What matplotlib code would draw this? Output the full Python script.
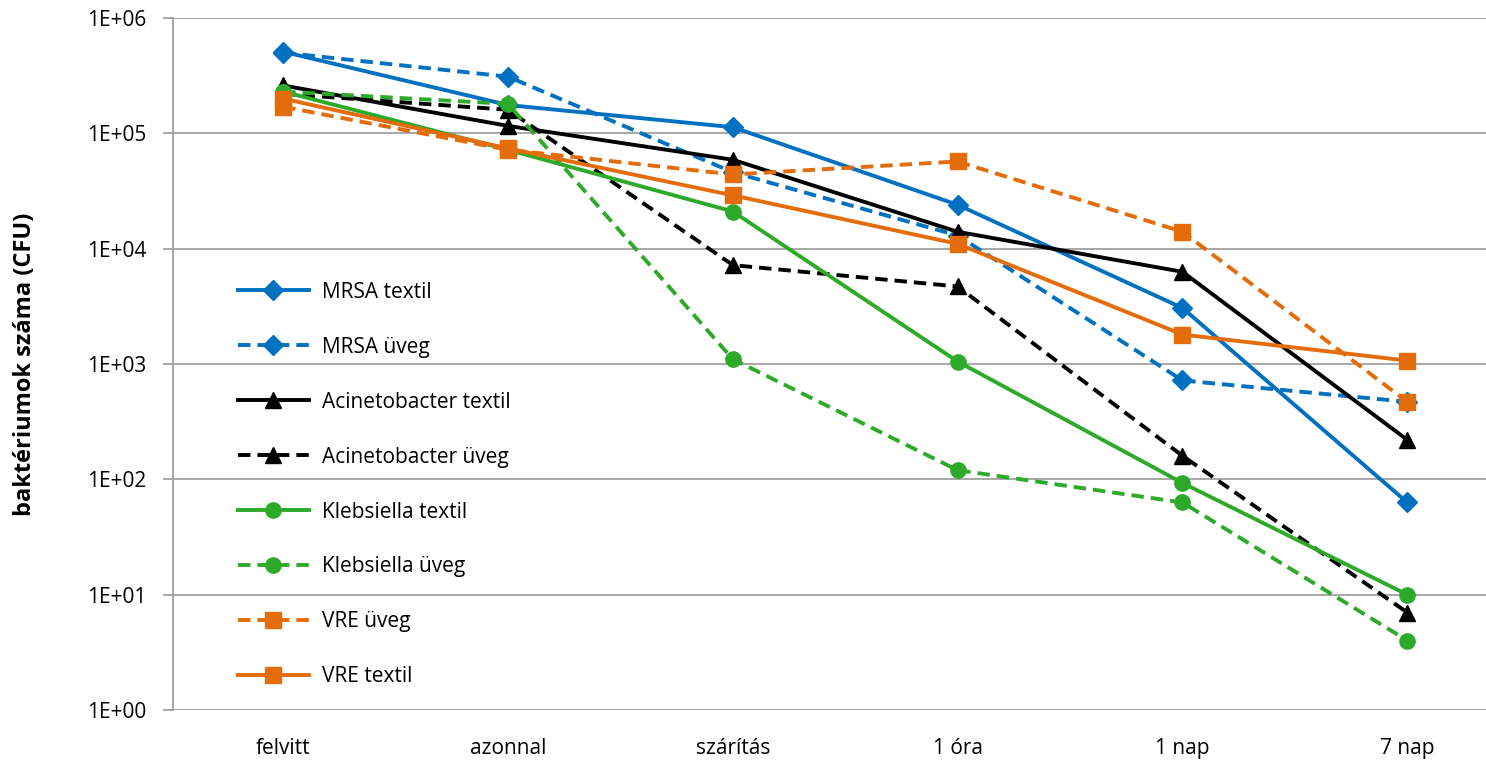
import numpy as np
import matplotlib
matplotlib.use('Agg')
import matplotlib.pyplot as plt

plt.rcParams['font.family'] = ['Open Sans', 'DejaVu Sans']

# Data
categories = ['felvitt', 'azonnal', 'szárítás', '1 óra', '1 nap', '7 nap']

mrsa_textil = [5.1e5, 1.76e5, 1.13e5, 2.4e4, 3.06e3, 63]
mrsa_uveg = [5.0e5, 3.1e5, 4.6e4, 1.3e4, 7.2e2, 4.7e2]
acineto_textil = [2.6e5, 1.16e5, 5.9e4, 1.4e4, 6.3e3, 2.2e2]
acineto_uveg = [2.2e5, 1.6e5, 7.2e3, 4.7e3, 1.6e2, 7]
klebs_textil = [2.3e5, 7.2e4, 2.1e4, 1.05e3, 93, 10]
klebs_uveg = [2.3e5, 1.8e5, 1.1e3, 1.2e2, 63, 4]
vre_uveg = [1.7e5, 7.2e4, 4.4e4, 5.7e4, 1.4e4, 4.7e2]
vre_textil = [2.0e5, 7.4e4, 2.9e4, 1.1e4, 1.8e3, 1.07e3]

blue = '#0070C0'
black = '#000000'
green = '#2EAA2A'
orange = '#E46C0A'

series = [
    ('MRSA textil', mrsa_textil, blue, '-', 'D'),
    ('MRSA üveg', mrsa_uveg, blue, '--', 'D'),
    ('Acinetobacter textil', acineto_textil, black, '-', '^'),
    ('Acinetobacter üveg', acineto_uveg, black, '--', '^'),
    ('Klebsiella textil', klebs_textil, green, '-', 'o'),
    ('Klebsiella üveg', klebs_uveg, green, '--', 'o'),
    ('VRE üveg', vre_uveg, orange, '--', 's'),
    ('VRE textil', vre_textil, orange, '-', 's'),
]

fig = plt.figure(figsize=(14.86, 7.62), dpi=100)
ax = fig.add_axes([173 / 1486, 1 - 710 / 762, 1 - 173 / 1486, (710 - 18) / 762])

x = np.arange(len(categories))
for label, vals, col, ls, mk in series:
    ms = 10 if mk == 'D' else 11
    line, = ax.plot(x, vals, color=col, linestyle=ls, linewidth=2.8,
                    marker=mk, markersize=ms, markerfacecolor=col,
                    markeredgecolor=col, label=label, clip_on=False)
    if ls == '--':
        line.set_dashes((3.2, 1.8))

ax.set_yscale('log')
ax.set_ylim(1, 1e6)
ax.set_xlim(-0.49, 5.35)
ax.set_yticks([10.0 ** k for k in range(7)])
ax.set_yticklabels(['1E+%02d' % k for k in range(7)])
ax.yaxis.set_minor_locator(matplotlib.ticker.NullLocator())
ax.set_xticks(x)
ax.set_xticklabels(categories)

ax.grid(axis='y', color='#A0A0A0', linewidth=1.3)
ax.set_axisbelow(True)
for s in ['top', 'right', 'bottom']:
    ax.spines[s].set_visible(False)
ax.spines['left'].set_color('#A0A0A0')
ax.spines['left'].set_linewidth(1.3)
ax.tick_params(axis='y', length=7, color='#A0A0A0', width=1.3, labelsize=15, pad=12)
ax.tick_params(axis='x', length=0, labelsize=15, pad=20)

ax.set_ylabel('baktériumok száma (CFU)', fontsize=17, fontweight='bold', labelpad=36)

leg = ax.legend(loc='upper left', bbox_to_anchor=(0.043, 0.631), frameon=False,
                fontsize=15, labelspacing=1.63, handlelength=3.4, handletextpad=0.65,
                borderaxespad=0)

fig.savefig('out.png', dpi=100)
